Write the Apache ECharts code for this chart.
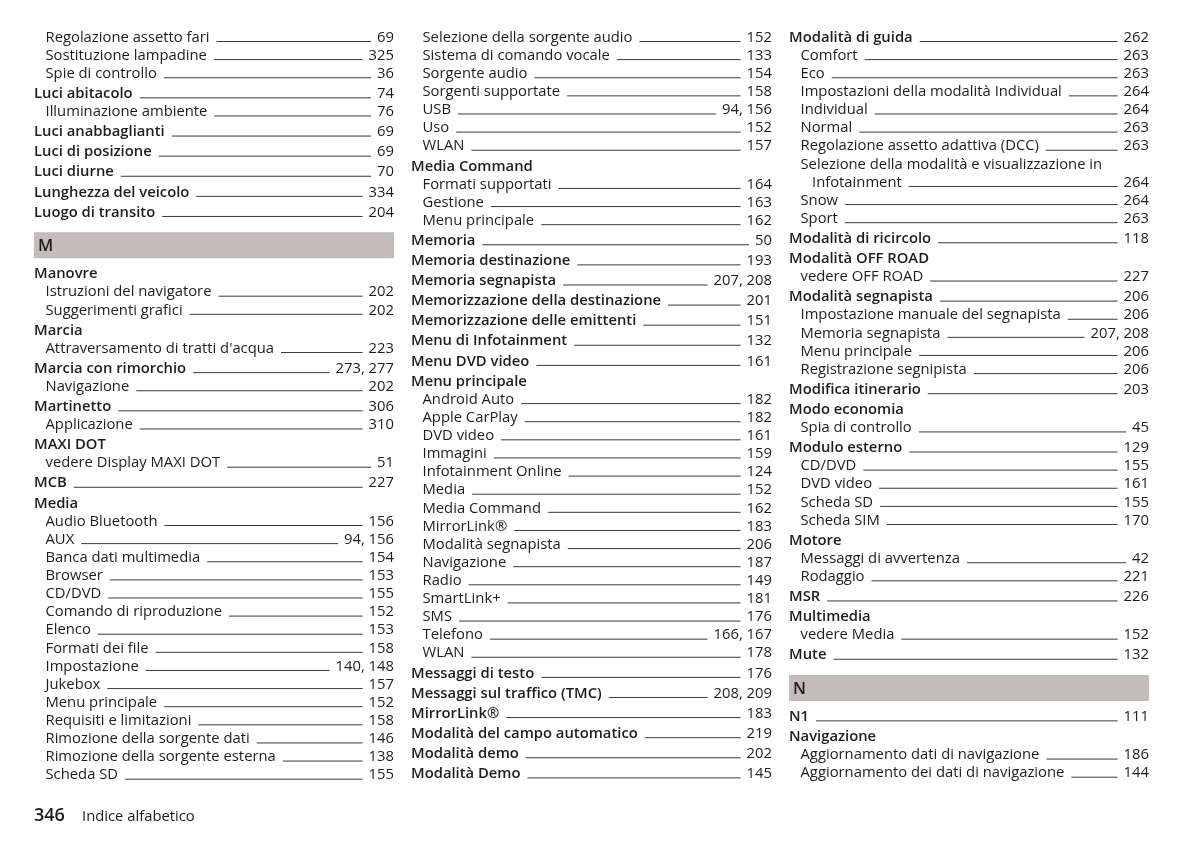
<!DOCTYPE html>
<html>
<head>
<meta charset="utf-8">
<script src="https://cdn.jsdelivr.net/npm/echarts@6/dist/echarts.min.js"></script>
<style>
html,body{margin:0;padding:0;background:#fff;}
#chart{width:1200px;height:845px;}
</style>
</head>
<body>
<div id="chart"></div>
<script>
// Levels: 0 = main entry (semibold), 1 = sub entry, 2 = wrapped continuation, 'H' = letter header
const column1 = [
  ['Regolazione assetto fari', '69', 1],
  ['Sostituzione lampadine', '325', 1],
  ['Spie di controllo', '36', 1],
  ['Luci abitacolo', '74', 0],
  ['Illuminazione ambiente', '76', 1],
  ['Luci anabbaglianti', '69', 0],
  ['Luci di posizione', '69', 0],
  ['Luci diurne', '70', 0],
  ['Lunghezza del veicolo', '334', 0],
  ['Luogo di transito', '204', 0],
  ['M', '', 'H'],
  ['Manovre', '', 0],
  ['Istruzioni del navigatore', '202', 1],
  ['Suggerimenti grafici', '202', 1],
  ['Marcia', '', 0],
  ["Attraversamento di tratti d'acqua", '223', 1],
  ['Marcia con rimorchio', '273, 277', 0],
  ['Navigazione', '202', 1],
  ['Martinetto', '306', 0],
  ['Applicazione', '310', 1],
  ['MAXI DOT', '', 0],
  ['vedere Display MAXI DOT', '51', 1],
  ['MCB', '227', 0],
  ['Media', '', 0],
  ['Audio Bluetooth', '156', 1],
  ['AUX', '94, 156', 1],
  ['Banca dati multimedia', '154', 1],
  ['Browser', '153', 1],
  ['CD/DVD', '155', 1],
  ['Comando di riproduzione', '152', 1],
  ['Elenco', '153', 1],
  ['Formati dei file', '158', 1],
  ['Impostazione', '140, 148', 1],
  ['Jukebox', '157', 1],
  ['Menu principale', '152', 1],
  ['Requisiti e limitazioni', '158', 1],
  ['Rimozione della sorgente dati', '146', 1],
  ['Rimozione della sorgente esterna', '138', 1],
  ['Scheda SD', '155', 1]
];
const column2 = [
  ['Selezione della sorgente audio', '152', 1],
  ['Sistema di comando vocale', '133', 1],
  ['Sorgente audio', '154', 1],
  ['Sorgenti supportate', '158', 1],
  ['USB', '94, 156', 1],
  ['Uso', '152', 1],
  ['WLAN', '157', 1],
  ['Media Command', '', 0],
  ['Formati supportati', '164', 1],
  ['Gestione', '163', 1],
  ['Menu principale', '162', 1],
  ['Memoria', '50', 0],
  ['Memoria destinazione', '193', 0],
  ['Memoria segnapista', '207, 208', 0],
  ['Memorizzazione della destinazione', '201', 0],
  ['Memorizzazione delle emittenti', '151', 0],
  ['Menu di Infotainment', '132', 0],
  ['Menu DVD video', '161', 0],
  ['Menu principale', '', 0],
  ['Android Auto', '182', 1],
  ['Apple CarPlay', '182', 1],
  ['DVD video', '161', 1],
  ['Immagini', '159', 1],
  ['Infotainment Online', '124', 1],
  ['Media', '152', 1],
  ['Media Command', '162', 1],
  ['MirrorLink®', '183', 1],
  ['Modalità segnapista', '206', 1],
  ['Navigazione', '187', 1],
  ['Radio', '149', 1],
  ['SmartLink+', '181', 1],
  ['SMS', '176', 1],
  ['Telefono', '166, 167', 1],
  ['WLAN', '178', 1],
  ['Messaggi di testo', '176', 0],
  ['Messaggi sul traffico (TMC)', '208, 209', 0],
  ['MirrorLink®', '183', 0],
  ['Modalità del campo automatico', '219', 0],
  ['Modalità demo', '202', 0],
  ['Modalità Demo', '145', 0]
];
const column3 = [
  ['Modalità di guida', '262', 0],
  ['Comfort', '263', 1],
  ['Eco', '263', 1],
  ['Impostazioni della modalità Individual', '264', 1],
  ['Individual', '264', 1],
  ['Normal', '263', 1],
  ['Regolazione assetto adattiva (DCC)', '263', 1],
  ['Selezione della modalità e visualizzazione in', '', 1],
  ['Infotainment', '264', 2],
  ['Snow', '264', 1],
  ['Sport', '263', 1],
  ['Modalità di ricircolo', '118', 0],
  ['Modalità OFF ROAD', '', 0],
  ['vedere OFF ROAD', '227', 1],
  ['Modalità segnapista', '206', 0],
  ['Impostazione manuale del segnapista', '206', 1],
  ['Memoria segnapista', '207, 208', 1],
  ['Menu principale', '206', 1],
  ['Registrazione segnipista', '206', 1],
  ['Modifica itinerario', '203', 0],
  ['Modo economia', '', 0],
  ['Spia di controllo', '45', 1],
  ['Modulo esterno', '129', 0],
  ['CD/DVD', '155', 1],
  ['DVD video', '161', 1],
  ['Scheda SD', '155', 1],
  ['Scheda SIM', '170', 1],
  ['Motore', '', 0],
  ['Messaggi di avvertenza', '42', 1],
  ['Rodaggio', '221', 1],
  ['MSR', '226', 0],
  ['Multimedia', '', 0],
  ['vedere Media', '152', 1],
  ['Mute', '132', 0],
  ['N', '', 'H'],
  ['N1', '111', 0],
  ['Navigazione', '', 0],
  ['Aggiornamento dati di navigazione', '186', 1],
  ['Aggiornamento dei dati di navigazione', '144', 1]
];
const pageNumber = '346';
const pageTitle = 'Indice alfabetico';

// ---- layout (page geometry, not data) ----
const FAMILY = '"Open Sans", "Noto Sans", sans-serif';
const FS = 14.8;
const TEXT_COLOR = '#1d1d1b';
const colLeft = [34, 411, 789];
const colRight = [394, 772, 1149];
const INDENT = 11.5;
const FIRST_Y = 36;
const TEXT_DY = 1.5;
const STEP_SUB = 18.12, STEP_MAIN = 20.1, STEP_TO_HEADER = 34.3, STEP_FROM_HEADER = 27.3;

const measureCtx = document.createElement('canvas').getContext('2d');
function fontOf(level){ return (level === 0 || level === 'H' ? '600 ' : '400 ') + FS + 'px ' + FAMILY; }
function textW(str, level){ measureCtx.font = fontOf(level); return measureCtx.measureText(str).width; }

const rows = [];
[column1, column2, column3].forEach(function(col, ci){
  let y = FIRST_Y;
  col.forEach(function(r, i){
    if (i > 0) {
      const prev = col[i-1][2];
      if (r[2] === 'H') y += STEP_TO_HEADER;
      else if (prev === 'H') y += STEP_FROM_HEADER;
      else if (r[2] === 0) y += STEP_MAIN;
      else y += STEP_SUB;
    }
    const lvl = r[2];
    const x = colLeft[ci] + (lvl === 1 ? INDENT : lvl === 2 ? INDENT * 2 : (lvl === 'H' ? 4 : 0));
    rows.push({x: x, y: y, col: ci, text: r[0], page: r[1], level: lvl});
  });
});

const chart = echarts.init(document.getElementById('chart'), null, {renderer: 'canvas'});

function renderItem(params, api){
  const row = rows[params.dataIndex];
  const p = api.coord([api.value(0), api.value(1)]);
  const rightPt = api.coord([colRight[row.col], api.value(1)]);
  const leftPt = api.coord([colLeft[row.col], api.value(1)]);
  const children = [];
  if (row.level === 'H') {
    children.push({type: 'rect', shape: {x: leftPt[0], y: p[1] - 13, width: rightPt[0] - leftPt[0], height: 26},
      style: {fill: '#c3bcba'}});
    children.push({type: 'text', style: {text: row.text, x: p[0], y: p[1] + TEXT_DY, font: '600 16.5px ' + FAMILY,
      fill: TEXT_COLOR, verticalAlign: 'middle', align: 'left'}});
    return {type: 'group', children: children};
  }
  children.push({type: 'text', style: {text: row.text, x: p[0], y: p[1] + TEXT_DY, font: fontOf(row.level),
    fill: TEXT_COLOR, verticalAlign: 'middle', align: 'left'}});
  if (row.page) {
    children.push({type: 'text', style: {text: row.page, x: rightPt[0], y: p[1] + TEXT_DY, font: '400 ' + FS + 'px ' + FAMILY,
      fill: TEXT_COLOR, verticalAlign: 'middle', align: 'right'}});
    const x1 = p[0] + textW(row.text, row.level) + 7;
    const x2 = rightPt[0] - textW(row.page, 1) - 6;
    children.push({type: 'line', shape: {x1: x1, y1: p[1] + 5.5, x2: x2, y2: p[1] + 5.5},
      style: {stroke: '#3a3a3a', lineWidth: 1}});
  }
  return {type: 'group', children: children};
}

chart.setOption({
  animation: false,
  backgroundColor: '#ffffff',
  grid: {left: 0, right: 0, top: 0, bottom: 0},
  xAxis: {type: 'value', min: 0, max: 1200, show: false},
  yAxis: {type: 'value', min: 0, max: 845, inverse: true, show: false},
  graphic: [
    {type: 'text', left: 34, top: 807, style: {text: pageNumber, font: '600 18px ' + FAMILY, fill: TEXT_COLOR}},
    {type: 'text', left: 82, top: 809, style: {text: pageTitle, font: '400 14.8px ' + FAMILY, fill: TEXT_COLOR}}
  ],
  series: [{
    type: 'custom',
    renderItem: renderItem,
    data: rows.map(function(r){ return [r.x, r.y]; }),
    clip: false,
    silent: true
  }]
});
</script>
</body>
</html>
